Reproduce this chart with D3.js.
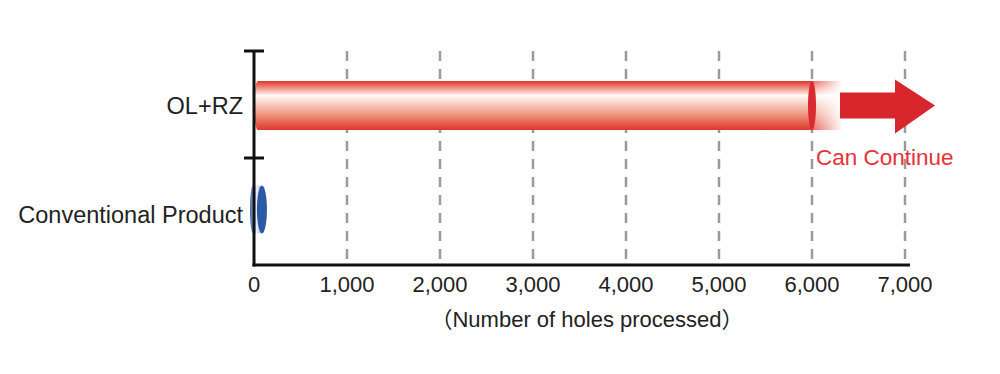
<!DOCTYPE html>
<html>
<head>
<meta charset="utf-8">
<script src="https://cdn.jsdelivr.net/npm/d3@7"></script>
<style>
  html, body { margin: 0; padding: 0; background: #fff; }
  svg { display: block; }
  text { font-family: "Liberation Sans", Arial, "Noto Sans CJK JP", sans-serif; fill: #222; }
</style>
</head>
<body>
<svg id="chart" width="1000" height="374"></svg>
<script>
// ---- data ----
const categories = ["OL+RZ", "Conventional Product"];
const values = [6000, 80];
const xTicks = [0, 1000, 2000, 3000, 4000, 5000, 6000, 7000];
const xTickLabels = ["0", "1,000", "2,000", "3,000", "4,000", "5,000", "6,000", "7,000"];
const axisTitle = "（Number of holes processed）";
const continueLabel = "Can Continue";

// ---- layout ----
const svg = d3.select("#chart");
const x = d3.scaleLinear().domain([0, 7000]).range([254, 905]);
const y = d3.scaleBand().domain(categories).range([51, 265]).paddingInner(0).paddingOuter(0);
const barH = 49;

const defs = svg.append("defs");
const red = defs.append("linearGradient").attr("id", "gRed").attr("x1", 0).attr("y1", 0).attr("x2", 0).attr("y2", 1);
[[0, "#e0342f"], [0.08, "#e9685a"], [0.3, "#fffaf7"], [0.45, "#f8d2c4"], [0.65, "#f0a08a"], [0.88, "#e45a48"], [1, "#dd3630"]]
  .forEach(([o, c]) => red.append("stop").attr("offset", o).attr("stop-color", c));
const blue = defs.append("linearGradient").attr("id", "gBlue")
  .attr("gradientUnits", "userSpaceOnUse").attr("x1", 250).attr("y1", 0).attr("x2", 259).attr("y2", 0);
[[0, "#3a62ae"], [0.75, "#f2f2f8"], [1, "#c8d2ea"]]
  .forEach(([o, c]) => blue.append("stop").attr("offset", o).attr("stop-color", c));
const fade = defs.append("linearGradient").attr("id", "gFade").attr("x1", 0).attr("y1", 0).attr("x2", 1).attr("y2", 0);
fade.append("stop").attr("offset", 0).attr("stop-color", "#fff").attr("stop-opacity", 0.25);
fade.append("stop").attr("offset", 1).attr("stop-color", "#fff").attr("stop-opacity", 1);

// gridlines
svg.append("g").selectAll("line").data(xTicks.slice(1)).join("line")
  .attr("x1", d => x(d)).attr("x2", d => x(d))
  .attr("y1", 51).attr("y2", 265)
  .attr("stroke", "#9a9a9a").attr("stroke-width", 2.5).attr("stroke-dasharray", "10,8");

// red bar (OL+RZ)
const rc = y(categories[0]) + y.bandwidth() / 2 + 1;
const rEnd = x(values[0]);
const gR = svg.append("g");
gR.append("rect").attr("x", rEnd).attr("y", rc - barH / 2).attr("width", 30).attr("height", barH).attr("fill", "url(#gRed)");
gR.append("rect").attr("x", rEnd).attr("y", rc - barH / 2).attr("width", 31).attr("height", barH).attr("fill", "url(#gFade)");
gR.append("ellipse").attr("cx", x(0) + 4).attr("cy", rc).attr("rx", 4).attr("ry", barH / 2).attr("fill", "url(#gRed)");
gR.append("rect").attr("x", x(0) + 4).attr("y", rc - barH / 2).attr("width", rEnd - x(0) - 4).attr("height", barH).attr("fill", "url(#gRed)");
gR.append("ellipse").attr("cx", rEnd).attr("cy", rc).attr("rx", 4).attr("ry", barH / 2).attr("fill", "#da2a30");

// arrow
const ax0 = rEnd + 28, ax1 = rEnd + 83, ax2 = rEnd + 123;
svg.append("path")
  .attr("d", `M${ax0},${rc - 13} L${ax1},${rc - 13} L${ax1},${rc - 26} L${ax2},${rc} L${ax1},${rc + 28} L${ax1},${rc + 13} L${ax0},${rc + 13} Z`)
  .attr("fill", "#d9262c");

svg.append("text").attr("x", rEnd + 4).attr("y", 165)
  .attr("font-size", 22.5).style("fill", "#e8303a").text(continueLabel);

// blue bar (Conventional Product)
const bc = y(categories[1]) + y.bandwidth() / 2 - 2;
const bEnd = x(values[1]);
const bH = 48;
svg.append("ellipse").attr("cx", x(0) - 1).attr("cy", bc).attr("rx", 3).attr("ry", bH / 2).attr("fill", "url(#gBlue)");
svg.append("rect").attr("x", x(0) - 1).attr("y", bc - bH / 2).attr("width", bEnd - x(0) + 1).attr("height", bH).attr("fill", "url(#gBlue)");
svg.append("ellipse").attr("cx", bEnd + 0.5).attr("cy", bc).attr("rx", 5).attr("ry", bH / 2).attr("fill", "#2a5aa6");

// axes
svg.append("line").attr("x1", x(0)).attr("x2", x(0)).attr("y1", 51).attr("y2", 266.5)
  .attr("stroke", "#111").attr("stroke-width", 3);
svg.append("line").attr("x1", x(0) - 1.5).attr("x2", 910).attr("y1", 265).attr("y2", 265)
  .attr("stroke", "#111").attr("stroke-width", 3);
svg.append("g").selectAll("line").data(categories).join("line")
  .attr("x1", x(0) - 10).attr("x2", x(0) + 10)
  .attr("y1", d => y(d)).attr("y2", d => y(d))
  .attr("stroke", "#111").attr("stroke-width", 3);

// x tick labels
svg.append("g").selectAll("text").data(xTicks).join("text")
  .attr("x", d => x(d)).attr("y", 292).attr("text-anchor", "middle")
  .attr("font-size", 22).text((d, i) => xTickLabels[i]);

// category labels
svg.append("g").selectAll("text").data(categories).join("text")
  .attr("x", 243).attr("y", (d, i) => i === 0 ? 114 : 223).attr("text-anchor", "end")
  .attr("font-size", 23.5).text(d => d);

// axis title
svg.append("text").attr("x", 587).attr("y", 327).attr("text-anchor", "middle")
  .attr("font-size", 22).text(axisTitle);
</script>
</body>
</html>
